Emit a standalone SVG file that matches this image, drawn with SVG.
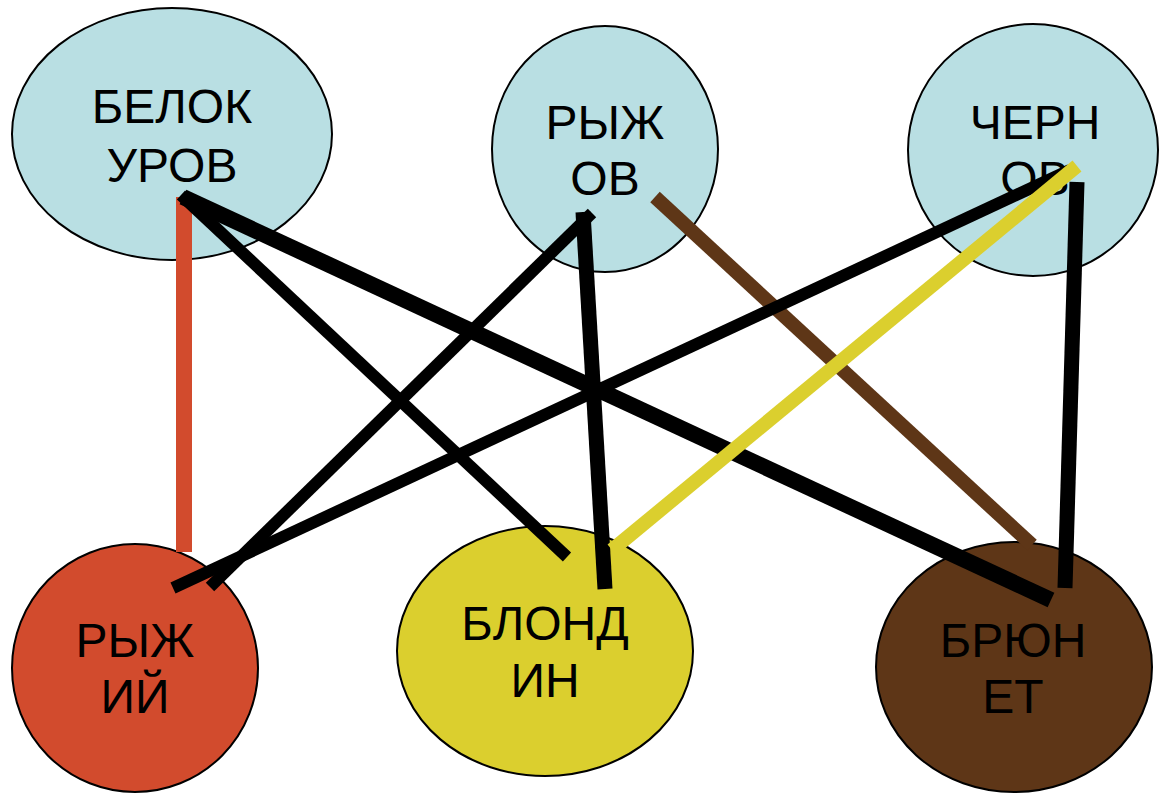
<svg xmlns="http://www.w3.org/2000/svg" width="1161" height="794" viewBox="0 0 1161 794">
<style>
  .node { stroke: #000; stroke-width: 2; }
  .blue { fill: #B9DFE3; }
  .red { fill: #D24B2D; }
  .yellow { fill: #DBCF2E; }
  .brown { fill: #5E3617; }
  text { font-family: "Liberation Sans", Arial, sans-serif; font-size: 48px; fill: #000; text-anchor: middle; }
  .c { fill: none; stroke-linecap: butt; }
  .k { stroke: #000; }
</style>
<rect width="1161" height="794" fill="#fff"/>
<g id="belokurov">
  <ellipse class="node blue" cx="172" cy="134" rx="160" ry="126"/>
  <text x="172" y="123">БЕЛОК</text>
  <text x="172" y="182">УРОВ</text>
</g>
<g id="ryzhov">
  <ellipse class="node blue" cx="605" cy="149" rx="113" ry="123"/>
  <text x="605" y="139">РЫЖ</text>
  <text x="605" y="195">ОВ</text>
</g>
<g id="chernov">
  <ellipse class="node blue" cx="1033" cy="150" rx="125" ry="126"/>
  <text x="1035" y="139">ЧЕРН</text>
  <text x="1035" y="195">ОВ</text>
</g>
<g id="ryzhiy">
  <ellipse class="node red" cx="135" cy="668" rx="123" ry="124"/>
  <text x="135" y="657">РЫЖ</text>
  <text x="135" y="713">ИЙ</text>
</g>
<g id="blondin">
  <ellipse class="node yellow" cx="545" cy="651" rx="148" ry="125"/>
  <text x="545" y="640">БЛОНД</text>
  <text x="545" y="697">ИН</text>
</g>
<g id="bryunet">
  <ellipse class="node brown" cx="1014" cy="667" rx="138" ry="125"/>
  <text x="1013" y="657">БРЮН</text>
  <text x="1013" y="713">ЕТ</text>
</g>
<g id="connectors">
  <line class="c" x1="184" y1="197" x2="184" y2="552" stroke="#D24B2D" stroke-width="16"/>
  <line class="c k" x1="181" y1="195" x2="567" y2="557" stroke-width="12"/>
  <line class="c k" x1="183" y1="197" x2="1051" y2="600" stroke-width="16"/>
  <line class="c k" x1="592" y1="213" x2="210" y2="587" stroke-width="12"/>
  <line class="c k" x1="583" y1="212" x2="605" y2="589" stroke-width="15"/>
  <line class="c" x1="655" y1="197" x2="1032" y2="545" stroke="#5E3617" stroke-width="14"/>
  <line class="c k" x1="1070" y1="170" x2="173" y2="588" stroke-width="12"/>
  <line class="c" x1="1077" y1="166" x2="612" y2="550" stroke="#DBCF2E" stroke-width="14"/>
  <line class="c k" x1="1077" y1="182" x2="1065" y2="588" stroke-width="15"/>
</g>
</svg>
